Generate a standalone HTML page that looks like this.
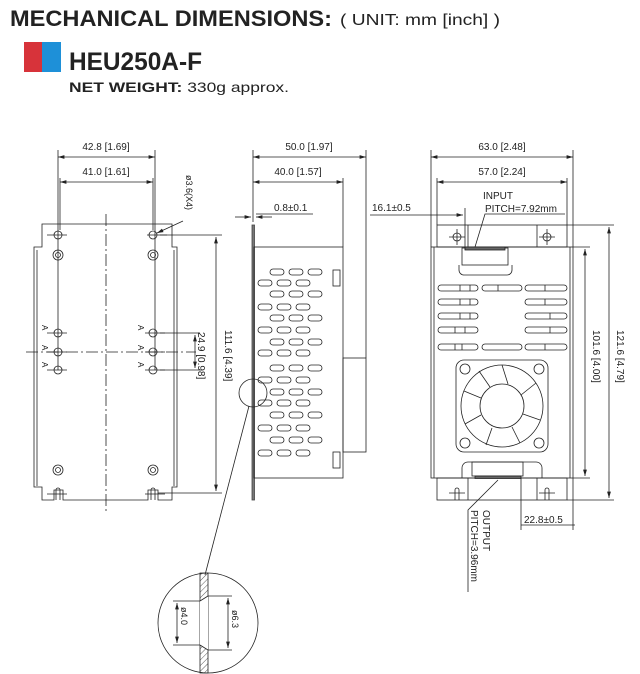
<!DOCTYPE html>
<html><head><meta charset="utf-8"><style>
html,body{margin:0;padding:0;background:#fff;width:640px;height:674px;overflow:hidden}
svg{display:block}
.t{font-family:"Liberation Sans",sans-serif;font-size:10px;fill:#222}
</style></head><body>
<svg width="640" height="674" viewBox="0 0 640 674" xmlns="http://www.w3.org/2000/svg">
<defs>
<marker id="a" viewBox="0 0 10 6" refX="10" refY="3" markerWidth="8" markerHeight="5" orient="auto-start-reverse"><path d="M0,0 L10,3 L0,6z" fill="#222"/></marker>
<pattern id="h" width="4" height="4" patternUnits="userSpaceOnUse" patternTransform="rotate(45)"><line x1="0" y1="0" x2="0" y2="4" stroke="#333" stroke-width="0.8"/></pattern>
<g id="r3"><rect x="-7" y="-3" width="14" height="6" rx="3"/><rect x="12" y="-3" width="14" height="6" rx="3"/><rect x="31" y="-3" width="14" height="6" rx="3"/></g>
</defs>
<text x="10" y="26" font-family="Liberation Sans,sans-serif" font-weight="bold" font-size="22" fill="#222" textLength="322" lengthAdjust="spacingAndGlyphs">MECHANICAL DIMENSIONS:</text>
<text x="340" y="25" font-family="Liberation Sans,sans-serif" font-size="16" fill="#222" textLength="160" lengthAdjust="spacingAndGlyphs">( UNIT: mm [inch] )</text>
<rect x="24" y="42" width="18" height="30" fill="#d7333a"/><rect x="42" y="42" width="19" height="30" fill="#1e90d8"/>
<text x="69" y="70" font-family="Liberation Sans,sans-serif" font-weight="bold" font-size="25" fill="#222" textLength="133" lengthAdjust="spacingAndGlyphs">HEU250A-F</text>
<text x="69" y="92" font-family="Liberation Sans,sans-serif" font-size="14" fill="#222" textLength="220" lengthAdjust="spacingAndGlyphs"><tspan font-weight="bold">NET WEIGHT:</tspan> 330g approx.</text>

<g stroke="#222" fill="none" stroke-width="0.8">
<!-- LEFT VIEW -->
<path d="M42,224 H172 V247 H177 V487 H172 V500 H158 V490 H148 V500 H63 V490 H54 V500 H42 V487 H34 V247 H42 Z"/>
<line x1="37" y1="250" x2="37" y2="486"/><line x1="174" y1="250" x2="174" y2="486"/>
<g stroke-dasharray="12,3,2,3"><line x1="106" y1="214" x2="106" y2="512"/><line x1="26" y1="352" x2="196" y2="352"/></g>
<line x1="58" y1="150" x2="58" y2="370"/><line x1="155" y1="150" x2="155" y2="370"/>
<line x1="60" y1="178" x2="60" y2="230"/><line x1="153" y1="178" x2="153" y2="230"/>
<line x1="58" y1="157" x2="155" y2="157" marker-start="url(#a)" marker-end="url(#a)"/>
<line x1="60" y1="182" x2="153" y2="182" marker-start="url(#a)" marker-end="url(#a)"/>
<g>
<circle cx="58" cy="235" r="4"/><circle cx="153" cy="235" r="4"/>
<circle cx="58" cy="333" r="4"/><circle cx="153" cy="333" r="4"/>
<circle cx="58" cy="352" r="4"/><circle cx="153" cy="352" r="4"/>
<circle cx="58" cy="370" r="4"/><circle cx="153" cy="370" r="4"/>
<circle cx="58" cy="255" r="5"/><circle cx="58" cy="255" r="2.5"/><circle cx="153" cy="255" r="5"/><circle cx="153" cy="255" r="2.5"/>
<circle cx="58" cy="470" r="5"/><circle cx="58" cy="470" r="2.5"/><circle cx="153" cy="470" r="5"/><circle cx="153" cy="470" r="2.5"/>
<path d="M47,235h20M147,235h20M47,333h20M145,333h20M47,352h20M145,352h20M47,370h20M145,370h20M47,494h20M145,494h20"/>
<path d="M56,500v-10a2,2 0 0 1 4,0v10M151,500v-10a2,2 0 0 1 4,0v10"/>
</g>
<line x1="160" y1="235" x2="222" y2="235"/><line x1="158" y1="493" x2="222" y2="493"/>
<line x1="216" y1="237" x2="216" y2="491" marker-start="url(#a)" marker-end="url(#a)"/>
<line x1="160" y1="333" x2="200" y2="333"/><line x1="160" y1="370" x2="200" y2="370"/>
<line x1="195" y1="335" x2="195" y2="368" marker-start="url(#a)" marker-end="url(#a)"/>
<line x1="183" y1="221" x2="157" y2="233" marker-end="url(#a)"/>

<!-- SIDE VIEW -->
<rect x="252" y="225" width="2.5" height="275" fill="#777" stroke="#444"/>
<rect x="254" y="247" width="89" height="231"/>
<rect x="343" y="358" width="23" height="94"/>
<line x1="253" y1="150" x2="253" y2="222"/><line x1="343" y1="178" x2="343" y2="247"/><line x1="366" y1="150" x2="366" y2="358"/>
<line x1="253" y1="157" x2="366" y2="157" marker-start="url(#a)" marker-end="url(#a)"/>
<line x1="253" y1="182" x2="343" y2="182" marker-start="url(#a)" marker-end="url(#a)"/>
<line x1="235" y1="217" x2="251" y2="217" marker-end="url(#a)"/><line x1="272" y1="217" x2="256" y2="217" marker-end="url(#a)"/>
<line x1="256" y1="214" x2="313" y2="214"/>
<rect x="333" y="270" width="7" height="16"/><rect x="333" y="452" width="7" height="16"/>
<g>
<use href="#r3" x="277" y="272"/><use href="#r3" x="265" y="283"/>
<use href="#r3" x="277" y="294"/><use href="#r3" x="265" y="307"/>
<use href="#r3" x="277" y="318"/><use href="#r3" x="265" y="330"/>
<use href="#r3" x="277" y="342"/><use href="#r3" x="265" y="353"/>
<use href="#r3" x="277" y="368"/><use href="#r3" x="265" y="380"/>
<use href="#r3" x="277" y="392"/><use href="#r3" x="265" y="403"/>
<use href="#r3" x="277" y="415"/><use href="#r3" x="265" y="428"/>
<use href="#r3" x="277" y="440"/><use href="#r3" x="265" y="453"/>
</g>
<circle cx="253" cy="393" r="14"/>
<line x1="249" y1="406" x2="205" y2="575"/>

<!-- RIGHT VIEW -->
<rect x="437" y="225" width="130" height="22"/>
<line x1="468" y1="225" x2="468" y2="247"/><line x1="537" y1="225" x2="537" y2="247"/>
<rect x="431" y="247" width="142" height="231"/>
<line x1="434" y1="247" x2="434" y2="478"/><line x1="570" y1="247" x2="570" y2="478"/>
<rect x="437" y="478" width="130" height="22"/>
<line x1="468" y1="478" x2="468" y2="500"/><line x1="537" y1="478" x2="537" y2="500"/>
<circle cx="457" cy="237" r="4"/><circle cx="547" cy="237" r="4"/>
<path d="M449,237h16M457,229v16M539,237h16M547,229v16M449,493h16M539,493h16"/>
<path d="M455,500v-10a2,2 0 0 1 4,0v10M545,500v-10a2,2 0 0 1 4,0v10"/>
<rect x="462" y="248" width="46" height="17"/>
<path d="M459,265v5a5,5 0 0 0 5,5h43a5,5 0 0 0 5,-5v-5"/>
<rect x="465" y="247" width="40" height="3" fill="#666"/>
<g>
<rect x="438" y="285" width="40" height="6" rx="3"/><rect x="482" y="285" width="40" height="6" rx="3"/><rect x="525" y="285" width="42" height="6" rx="3"/>
<rect x="438" y="299" width="40" height="6" rx="3"/><rect x="525" y="299" width="42" height="6" rx="3"/>
<rect x="438" y="313" width="40" height="6" rx="3"/><rect x="525" y="313" width="42" height="6" rx="3"/>
<rect x="438" y="327" width="40" height="6" rx="3"/><rect x="525" y="327" width="42" height="6" rx="3"/>
<rect x="438" y="344" width="40" height="6" rx="3"/><rect x="482" y="344" width="40" height="6" rx="3"/><rect x="525" y="344" width="42" height="6" rx="3"/>
<path d="M460,285v6M470,285v6M460,299v6M470,299v6M460,313v6M470,313v6M455,327v6M465,327v6M455,344v6M462,344v6M498,285v6M545,285v6M545,299v6M550,313v6M550,327v6M545,344v6"/>
</g>
<rect x="456" y="360" width="92" height="92" rx="8"/>
<circle cx="502" cy="406" r="41"/><circle cx="502" cy="406" r="22"/>
<circle cx="465" cy="369" r="5"/><circle cx="539" cy="369" r="5"/><circle cx="465" cy="443" r="5"/><circle cx="539" cy="443" r="5"/>
<path d="M502,365L508,384M536,383L521,395M540,420L523,414M520,443L512,427M486,445L492,428M465,424L481,415M464,391L481,398M479,371L490,387"/>
<path d="M462,478v-10a6,6 0 0 1 6,-6h68a6,6 0 0 1 6,6v10"/>
<rect x="472" y="462" width="51" height="14"/>
<rect x="475" y="476" width="46" height="2.5" fill="#666"/>
<line x1="431" y1="150" x2="431" y2="247"/><line x1="573" y1="150" x2="573" y2="247"/>
<line x1="437" y1="178" x2="437" y2="225"/><line x1="567" y1="178" x2="567" y2="225"/>
<line x1="431" y1="157" x2="573" y2="157" marker-start="url(#a)" marker-end="url(#a)"/>
<line x1="437" y1="182" x2="567" y2="182" marker-start="url(#a)" marker-end="url(#a)"/>
<line x1="370" y1="215" x2="463" y2="215" marker-end="url(#a)"/><line x1="465" y1="208" x2="465" y2="250"/>
<path d="M565,214H485L475,247"/>
<line x1="573" y1="247" x2="590" y2="247"/><line x1="573" y1="478" x2="590" y2="478"/>
<line x1="585" y1="249" x2="585" y2="476" marker-start="url(#a)" marker-end="url(#a)"/>
<line x1="567" y1="225" x2="614" y2="225"/><line x1="567" y1="500" x2="614" y2="500"/>
<line x1="609" y1="227" x2="609" y2="498" marker-start="url(#a)" marker-end="url(#a)"/>
<line x1="521" y1="478" x2="521" y2="530"/><line x1="573" y1="478" x2="573" y2="530"/>
<line x1="521" y1="525" x2="575" y2="525"/>
<path d="M468,592V510L498,480"/>

<!-- DETAIL -->
<circle cx="208" cy="623" r="50"/>
<path d="M200,573H208V673H200Z" fill="url(#h)"/>
<path d="M200,601 L208,596 V650 L200,645Z" fill="#fff" stroke="none"/>
<path d="M200,601 L208,596 M200,645 L208,650 M208,596H232 M208,650H232 M173,601H200 M173,645H200"/>
<line x1="177" y1="603" x2="177" y2="643" marker-start="url(#a)" marker-end="url(#a)"/>
<line x1="228" y1="598" x2="228" y2="648" marker-start="url(#a)" marker-end="url(#a)"/>
</g>

<g class="t">
<text x="106" y="150" text-anchor="middle">42.8 [1.69]</text>
<text x="106" y="175" text-anchor="middle">41.0 [1.61]</text>
<text transform="translate(186,175) rotate(90)" font-size="9">ø3.6(X4)</text>
<text transform="translate(225,330) rotate(90)">111.6 [4.39]</text>
<text transform="translate(198,332) rotate(90)">24.9 [0.98]</text>
<g font-size="8">
<text transform="translate(42,325) rotate(90)">A</text><text transform="translate(42,345) rotate(90)">A</text><text transform="translate(42,362) rotate(90)">A</text>
<text transform="translate(138,325) rotate(90)">A</text><text transform="translate(138,345) rotate(90)">A</text><text transform="translate(138,362) rotate(90)">A</text>
</g>
<text x="309" y="150" text-anchor="middle">50.0 [1.97]</text>
<text x="298" y="175" text-anchor="middle">40.0 [1.57]</text>
<text x="274" y="211">0.8±0.1</text>
<text x="372" y="211">16.1±0.5</text>
<text x="502" y="150" text-anchor="middle">63.0 [2.48]</text>
<text x="502" y="175" text-anchor="middle">57.0 [2.24]</text>
<text x="483" y="199">INPUT</text>
<text x="485" y="212">PITCH=7.92mm</text>
<text transform="translate(593,330) rotate(90)">101.6 [4.00]</text>
<text transform="translate(617,330) rotate(90)">121.6 [4.79]</text>
<text x="524" y="523">22.8±0.5</text>
<text transform="translate(483,510) rotate(90)">OUTPUT</text>
<text transform="translate(471,510) rotate(90)">PITCH=3.96mm</text>
<text transform="translate(181,607) rotate(90)" font-size="9">ø4.0</text>
<text transform="translate(232,610) rotate(90)" font-size="9">ø6.3</text>
</g>
</svg>
</body></html>
